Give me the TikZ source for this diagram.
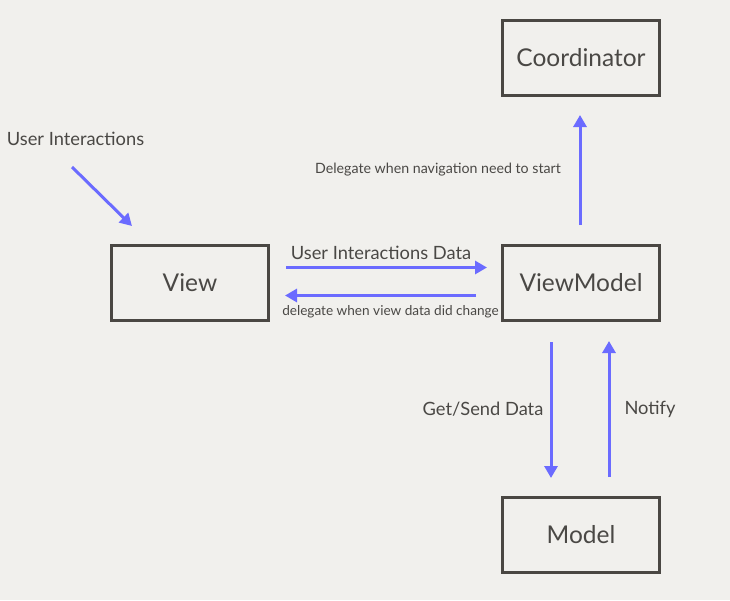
\documentclass[tikz,border=0pt]{standalone}
\usepackage{fontspec}
\setmainfont{Lato}
\usetikzlibrary{arrows.meta}
\definecolor{bg}{HTML}{F1F0ED}
\definecolor{boxc}{HTML}{4A4743}
\definecolor{txt}{HTML}{4A4845}
\definecolor{arr}{HTML}{6B6BFF}
\tikzset{
  box/.style={draw=boxc, line width=3pt, minimum width=157pt, minimum height=75pt, inner sep=0pt, text=txt, font=\fontsize{24.5}{28}\selectfont},
  lbl/.style={text=txt, inner sep=0pt, font=\fontsize{18.3}{22}\selectfont},
  slbl/.style={text=txt, inner sep=0pt, font=\fontsize{14.2}{17}\selectfont},
  sslbl/.style={text=txt, inner sep=0pt, font=\fontsize{13.6}{16}\selectfont},
  conn/.style={draw=arr, line width=3pt, -{Triangle[length=12pt,width=13pt]}}
}
\begin{document}
\begin{tikzpicture}[x=1pt,y=-1pt]
\fill[bg] (0,0) rectangle (730,600);
\useasboundingbox (0,0) rectangle (730,600);
\node[box] (coord) at (581,57.5) {Coordinator};
\node[box] (view) at (190,283) {View};
\node[box] (vm) at (581,283) {ViewModel};
\node[box] (model) at (581,535) {Model};

\node[lbl] (ui) at (75.5,139) {User Interactions};
\coordinate (uiA) at (72,167);
\coordinate (uiB) at (132,226);
\draw[conn] (uiA) -- (uiB);

\coordinate (upA) at (580,225);
\coordinate (upB) at (580,115);
\draw[conn] (upA) -- (upB);
\node[slbl] (nav) at (438,170) {Delegate when navigation need to start};

\coordinate (h1A) at (286,267.5);
\coordinate (h1B) at (487,267.5);
\draw[conn] (h1A) -- (h1B);
\node[lbl] (uid) at (381,253) {User Interactions Data};

\coordinate (h2A) at (476,295.5);
\coordinate (h2B) at (285,295.5);
\draw[conn] (h2A) -- (h2B);
\node[sslbl] (del) at (390.5,312) {delegate when view data did change};

\coordinate (dA) at (551,342);
\coordinate (dB) at (551,478);
\draw[conn] (dA) -- (dB);
\node[lbl] (gs) at (483,409) {Get/Send Data};

\coordinate (nA) at (609,477);
\coordinate (nB) at (609,341);
\draw[conn] (nA) -- (nB);
\node[lbl] (nt) at (650,409) {Notify};
\end{tikzpicture}
\end{document}
